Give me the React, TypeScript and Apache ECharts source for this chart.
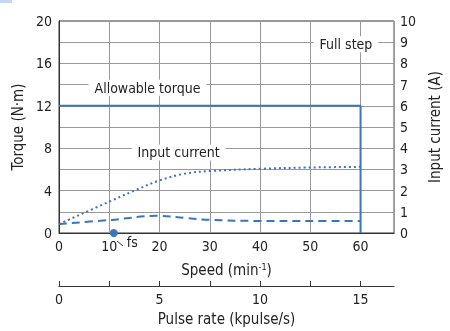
import React, { useEffect, useRef } from "react";
import * as echarts from "echarts";

const FONT = "'Liberation Sans Narrow', 'DejaVu Sans Condensed', 'Arial Narrow', sans-serif";
const BLUE = "#3a75bf";
const TXT = "#222";

// Speed axis (min^-1)
const speedMax = 66.67;
const speedLabels = [0, 10, 20, 30, 40, 50, 60];
// Pulse rate axis (kpulse/s)
const pulseMax = 16.667;
const pulseLabels = [0, 5, 10, 15];
const pulseTicks = [0, 2.5, 5, 7.5, 10, 12.5, 15];
// Torque axis
const torqueLabels = [0, 4, 8, 12, 16, 20];

// Allowable torque (N·m) vs speed
const allowableTorque: [number, number][] = [[0, 12], [60, 12], [60, 0]];
// Input current (A) vs speed — dotted
const inputCurrent: [number, number][] = [
  [0, 0.42], [10, 1.48], [15, 2.0], [20, 2.48], [25, 2.8], [30, 2.92], [40, 3.03], [50, 3.09], [60, 3.12],
];
// Dashed curve (N·m) vs speed
const dashedTorque: [number, number][] = [
  [0, 0.85], [10, 1.22], [20, 1.62], [25, 1.42], [30, 1.24], [40, 1.14], [50, 1.13], [60, 1.13],
];
// fs point
const fsPoint: [number, number] = [10.9, 0];
// Annotations [speed, torque]
const annotations = [
  { name: "Allowable torque", value: [17.6, 13.7] },
  { name: "Input current", value: [23.8, 7.6] },
  { name: "Full step", value: [57.1, 17.8] },
];

export default function App() {
  const ref = useRef<HTMLDivElement>(null);
  useEffect(() => {
    if (!ref.current) return;
    const chart = echarts.init(ref.current, null, { renderer: "svg" });
    chart.setOption({
      animation: false,
      textStyle: { fontFamily: FONT, color: TXT },
      grid: {
        left: 59, top: 21, width: 349, height: 218,
        show: true, borderColor: "#333", borderWidth: 1, backgroundColor: "transparent",
        containLabel: false,
      },
      xAxis: [
        {
          type: "value", min: 0, max: speedMax, interval: 10, position: "bottom",
          axisLine: { show: true, lineStyle: { color: "#333", width: 1 } },
          axisTick: { show: false },
          axisLabel: { customValues: speedLabels, fontSize: 14, color: TXT, margin: 6, fontFamily: FONT },
          splitLine: { show: true, lineStyle: { color: "#999", width: 1 } },
          name: "{a|Speed (min}{s|-1}{a|)}",
          nameLocation: "middle", nameGap: 29,
          nameTextStyle: {
            rich: {
              a: { fontSize: 15, color: TXT, fontFamily: FONT },
              s: { fontSize: 9, color: TXT, fontFamily: FONT, verticalAlign: "top", padding: [0, 0, 6, 0] },
            },
          },
        },
        {
          type: "value", min: 0, max: pulseMax, interval: 2.5, position: "bottom", offset: 53,
          axisLine: { show: true, onZero: false, lineStyle: { color: "#333", width: 1 } },
          axisTick: { show: true, inside: true, length: 5, customValues: pulseTicks, lineStyle: { color: "#333" } },
          axisLabel: { customValues: pulseLabels, fontSize: 14, color: TXT, margin: 6, fontFamily: FONT },
          splitLine: { show: false },
          name: "Pulse rate (kpulse/s)",
          nameLocation: "middle", nameGap: 25,
          nameTextStyle: { fontSize: 15, color: TXT, fontFamily: FONT },
        },
      ],
      yAxis: [
        {
          type: "value", min: 0, max: 20, interval: 2, position: "left",
          axisLine: { show: true, lineStyle: { color: "#333", width: 1 } },
          axisTick: { show: false },
          axisLabel: { customValues: torqueLabels, fontSize: 14, color: TXT, margin: 7, fontFamily: FONT },
          splitLine: { show: true, lineStyle: { color: "#999", width: 1 } },
          name: "Torque (N·m)", nameLocation: "middle", nameGap: 33, nameRotate: 90,
          nameTextStyle: { fontSize: 15, color: TXT, fontFamily: FONT },
        },
        {
          type: "value", min: 0, max: 10, interval: 1, position: "right",
          axisLine: { show: true, lineStyle: { color: "#333", width: 1 } },
          axisTick: { show: false },
          axisLabel: { fontSize: 14, color: TXT, margin: 6, fontFamily: FONT },
          splitLine: { show: false },
          name: "Input current (A)", nameLocation: "middle", nameGap: 32, nameRotate: 90,
          nameTextStyle: { fontSize: 15, color: TXT, fontFamily: FONT },
        },
      ],
      series: [
        {
          name: "Allowable torque", type: "line", xAxisIndex: 0, yAxisIndex: 0,
          data: allowableTorque, showSymbol: false, clip: false,
          lineStyle: { color: BLUE, width: 2 },
        },
        {
          name: "Input current", type: "line", xAxisIndex: 0, yAxisIndex: 1,
          data: inputCurrent, showSymbol: false, smooth: 0.35,
          lineStyle: { color: BLUE, width: 2, type: [2, 3] },
        },
        {
          name: "Dashed", type: "line", xAxisIndex: 0, yAxisIndex: 0,
          data: dashedTorque, showSymbol: false, smooth: 0.4,
          lineStyle: { color: BLUE, width: 2, type: [8, 5] },
        },
        {
          name: "fs", type: "scatter", xAxisIndex: 0, yAxisIndex: 0, clip: false,
          data: [fsPoint], symbol: "circle", symbolSize: 8,
          itemStyle: { color: BLUE, opacity: 1 },
          label: {
            show: true, formatter: "fs", position: "right", offset: [4, 9],
            fontSize: 14, color: TXT, fontFamily: FONT,
          },
          z: 5,
        },
        {
          name: "annotations", type: "scatter", xAxisIndex: 0, yAxisIndex: 0,
          data: annotations, symbolSize: 0, silent: true,
          itemStyle: { opacity: 1 },
          label: {
            show: true, position: "inside", formatter: "{b}",
            fontSize: 14, color: TXT, fontFamily: FONT,
            backgroundColor: "#fff", padding: [1, 6, 1, 6],
          },
          z: 4,
        },
      ],
      graphic: [
        { type: "rect", shape: { x: 0, y: 0, width: 12, height: 3 }, style: { fill: "#c6d6ee" } },
        { type: "line", shape: { x1: 117, y1: 241, x2: 123, y2: 246 }, style: { stroke: "#333", lineWidth: 1 } },
      ],
    });
    return () => chart.dispose();
  }, []);
  return <div ref={ref} style={{ position: "fixed", left: 0, top: 0, width: 450, height: 331 }} />;
}
